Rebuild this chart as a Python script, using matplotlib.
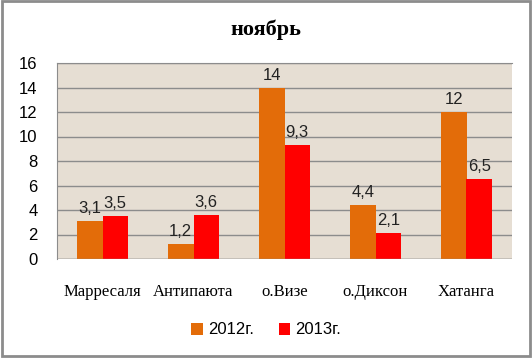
import matplotlib.pyplot as plt
import numpy as np
from matplotlib.patches import Rectangle

# station names and monthly values
stations = ['Марресаля', 'Антипаюта', 'о.Визе', 'о.Диксон', 'Хатанга']
values_2012 = [3.1, 1.2, 14, 4.4, 12]
values_2013 = [3.5, 3.6, 9.3, 2.1, 6.5]
labels_2012 = ['3,1', '1,2', '14', '4,4', '12']
labels_2013 = ['3,5', '3,6', '9,3', '2,1', '6,5']
yticks = [0, 2, 4, 6, 8, 10, 12, 14, 16]

fig = plt.figure(figsize=(5.32, 3.58), dpi=100)
fig.patch.set_facecolor('white')
ax = fig.add_axes([57 / 532, 1 - 259 / 358, (512 - 57) / 532, (259 - 63) / 358])
ax.set_facecolor('#e6ded3')

x = np.arange(len(stations))
w = 0.28
ax.bar(x - w / 2, values_2012, w, color='#e36c09', label='2012г.', zorder=3)
ax.bar(x + w / 2, values_2013, w, color='#ff0000', label='2013г.', zorder=3)

for xi, v, t in zip(x, values_2012, labels_2012):
    ax.text(xi - w / 2, v + 0.4, t, ha='center', va='bottom', fontsize=12,
            family='Liberation Sans', color='#222222', zorder=4)
for xi, v, t in zip(x, values_2013, labels_2013):
    ax.text(xi + w / 2, v + 0.4, t, ha='center', va='bottom', fontsize=12,
            family='Liberation Sans', color='#222222', zorder=4)

ax.set_xlim(-0.5, len(stations) - 0.5)
ax.set_ylim(0, 16)
ax.set_yticks(yticks)
ax.set_yticklabels([str(t) for t in yticks], fontsize=12, family='Liberation Sans')
ax.yaxis.grid(True, color='#8c8c8c', linewidth=1)
ax.set_axisbelow(True)
ax.tick_params(axis='y', length=0, pad=14)
ax.tick_params(axis='x', length=0, pad=18)
ax.set_xticks(x)
ax.set_xticklabels(stations, fontsize=12, family='Liberation Serif')
for s in ['right', 'bottom']:
    ax.spines[s].set_visible(False)
ax.spines['top'].set_color('#8c8c8c')
ax.spines['left'].set_color('#8c8c8c')
ax.axhline(0, color='#8c8c8c', linewidth=1, zorder=4)

fig.text(0.5, 1 - 30 / 358, 'ноябрь', ha='center', va='center', fontsize=16,
         fontweight='bold', family='Liberation Serif')

fig.legend(loc='center', bbox_to_anchor=(0.5, 1 - 330 / 358), ncol=2, frameon=False,
           prop={'family': 'Liberation Sans', 'size': 12}, handlelength=0.7,
           handleheight=0.7, handletextpad=0.3, columnspacing=1.5)

fig.patches.append(Rectangle((0.003, 0.006), 0.994, 0.99, transform=fig.transFigure,
                             fill=False, edgecolor='#8c8c8c', linewidth=2))

fig.savefig('out.png', dpi=100)
